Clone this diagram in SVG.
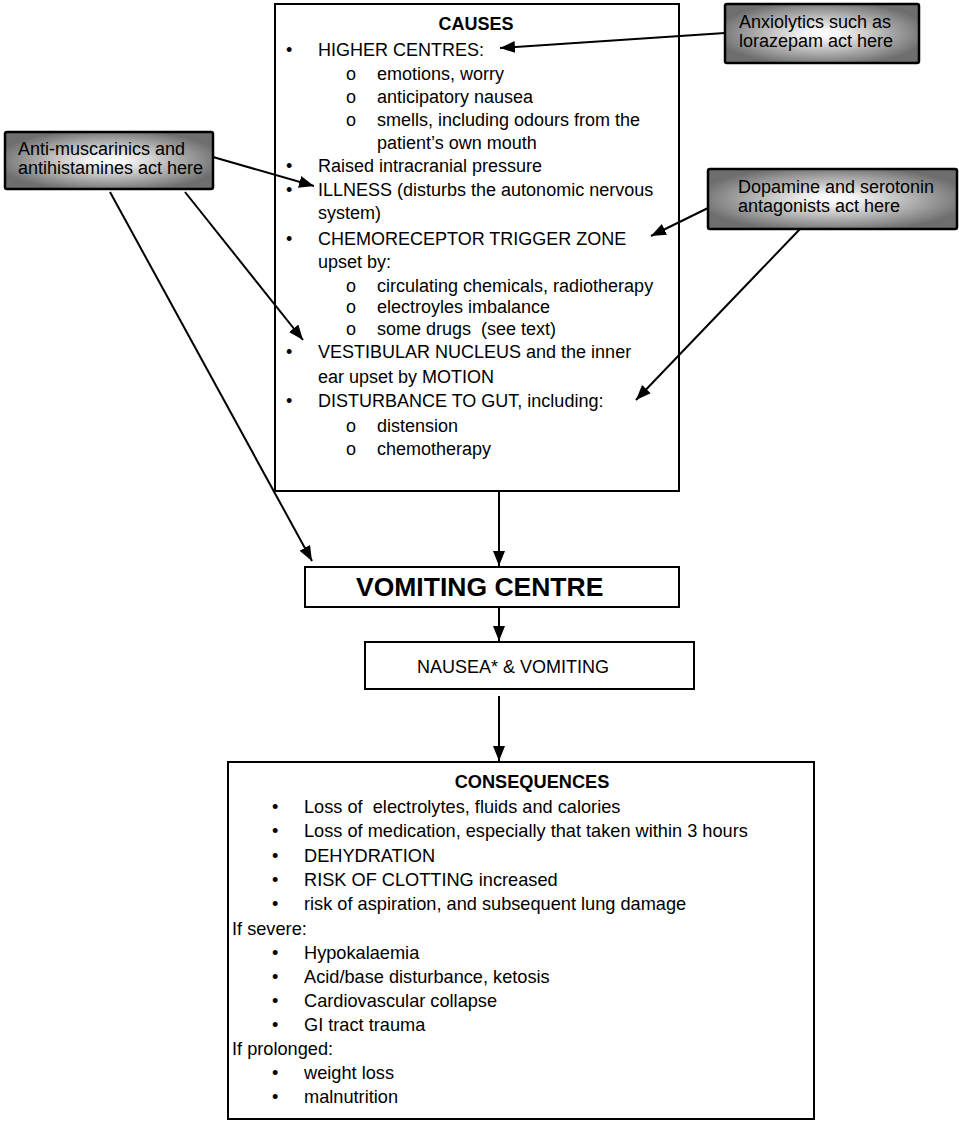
<svg xmlns="http://www.w3.org/2000/svg" width="959" height="1121" viewBox="0 0 959 1121">
<defs>
<radialGradient id="g" cx="0.5" cy="0.5" r="0.55">
<stop offset="0" stop-color="#ffffff"/>
<stop offset="0.15" stop-color="#f6f6f6"/>
<stop offset="1" stop-color="#6e6e6e"/>
</radialGradient>
<marker id="ah" markerUnits="userSpaceOnUse" markerWidth="16" markerHeight="14" refX="15" refY="6" orient="auto">
<path d="M0,0 L15,6 L0,12 Z" fill="#000"/>
</marker>
<style>
.t{font-family:"Liberation Sans",Arial,sans-serif;font-size:18px;fill:#000;white-space:pre}
.c{font-family:"Liberation Sans",Arial,sans-serif;font-size:18.2px;fill:#000;white-space:pre}
.b{font-weight:bold}
.box{fill:#fff;stroke:#000;stroke-width:2}
.gbox{fill:url(#g);stroke:#000;stroke-width:2.5}
.ln{stroke:#000;stroke-width:2;fill:none;marker-end:url(#ah)}
</style>
</defs>
<rect width="959" height="1121" fill="#fff"/>

<g id="causes">
<rect class="box" x="275" y="4" width="404" height="487"/>
<text class="t b" x="476" y="30" text-anchor="middle">CAUSES</text>
<text class="t" x="286" y="56">•</text><text class="t" x="318" y="56">HIGHER CENTRES:</text>
<text class="t" x="346" y="80">o</text><text class="t" x="377" y="80">emotions, worry</text>
<text class="t" x="346" y="103">o</text><text class="t" x="377" y="103">anticipatory nausea</text>
<text class="t" x="346" y="126">o</text><text class="t" x="377" y="126">smells, including odours from the</text>
<text class="t" x="377" y="149">patient’s own mouth</text>
<text class="t" x="286" y="172">•</text><text class="t" x="318" y="172">Raised intracranial pressure</text>
<text class="t" x="286" y="196">•</text><text class="t" x="318" y="196">ILLNESS (disturbs the autonomic nervous</text>
<text class="t" x="318" y="219">system)</text>
<text class="t" x="286" y="245">•</text><text class="t" x="318" y="245">CHEMORECEPTOR TRIGGER ZONE</text>
<text class="t" x="318" y="268">upset by:</text>
<text class="t" x="346" y="292">o</text><text class="t" x="377" y="292">circulating chemicals, radiotherapy</text>
<text class="t" x="346" y="313">o</text><text class="t" x="377" y="313">electroyles imbalance</text>
<text class="t" x="346" y="335">o</text><text class="t" x="377" y="335">some drugs  (see text)</text>
<text class="t" x="286" y="358">•</text><text class="t" x="318" y="358">VESTIBULAR NUCLEUS and the inner</text>
<text class="t" x="318" y="383">ear upset by MOTION</text>
<text class="t" x="286" y="407">•</text><text class="t" x="318" y="407">DISTURBANCE TO GUT, including:</text>
<text class="t" x="346" y="432">o</text><text class="t" x="377" y="432">distension</text>
<text class="t" x="346" y="455">o</text><text class="t" x="377" y="455">chemotherapy</text>
</g>

<g id="anxiolytics">
<rect class="gbox" x="725" y="4" width="194" height="59" rx="2"/>
<text class="t" x="739" y="28">Anxiolytics such as</text>
<text class="t" x="739" y="47">lorazepam act here</text>
</g>

<g id="antimuscarinics">
<rect class="gbox" x="5" y="132" width="208" height="57" rx="2"/>
<text class="t" x="18" y="155">Anti-muscarinics and</text>
<text class="t" x="18" y="174">antihistamines act here</text>
</g>

<g id="dopamine">
<rect class="gbox" x="708" y="169" width="249" height="60" rx="2"/>
<text class="t" x="738" y="193">Dopamine and serotonin</text>
<text class="t" x="738" y="212">antagonists act here</text>
</g>

<g id="vomiting-centre">
<rect class="box" x="305" y="567" width="374" height="40"/>
<text class="t b" x="356" y="596" style="font-size:26.5px">VOMITING CENTRE</text>
</g>

<g id="nausea">
<rect class="box" x="365" y="642" width="329" height="47"/>
<text class="t" x="417" y="673">NAUSEA* &amp; VOMITING</text>
</g>

<g id="consequences">
<rect class="box" x="228" y="762" width="586" height="357"/>
<text class="c b" x="532" y="788" text-anchor="middle">CONSEQUENCES</text>
<text class="c" x="272" y="813">•</text><text class="c" x="304" y="813">Loss of  electrolytes, fluids and calories</text>
<text class="c" x="272" y="837">•</text><text class="c" x="304" y="837">Loss of medication, especially that taken within 3 hours</text>
<text class="c" x="272" y="862">•</text><text class="c" x="304" y="862">DEHYDRATION</text>
<text class="c" x="272" y="886">•</text><text class="c" x="304" y="886">RISK OF CLOTTING increased</text>
<text class="c" x="272" y="910">•</text><text class="c" x="304" y="910">risk of aspiration, and subsequent lung damage</text>
<text class="c" x="232" y="935">If severe:</text>
<text class="c" x="272" y="959">•</text><text class="c" x="304" y="959">Hypokalaemia</text>
<text class="c" x="272" y="983">•</text><text class="c" x="304" y="983">Acid/base disturbance, ketosis</text>
<text class="c" x="272" y="1007">•</text><text class="c" x="304" y="1007">Cardiovascular collapse</text>
<text class="c" x="272" y="1031">•</text><text class="c" x="304" y="1031">GI tract trauma</text>
<text class="c" x="232" y="1055">If prolonged:</text>
<text class="c" x="272" y="1079">•</text><text class="c" x="304" y="1079">weight loss</text>
<text class="c" x="272" y="1103">•</text><text class="c" x="304" y="1103">malnutrition</text>
</g>

<g id="connectors">
<line class="ln" x1="725" y1="33" x2="500" y2="48"/>
<line class="ln" x1="213" y1="157" x2="314" y2="186"/>
<line class="ln" x1="185" y1="192" x2="303" y2="340"/>
<line class="ln" x1="110" y1="192" x2="312" y2="561"/>
<line class="ln" x1="708" y1="208" x2="651" y2="236"/>
<line class="ln" x1="800" y1="229" x2="636" y2="400"/>
<line class="ln" x1="499" y1="491" x2="499" y2="566"/>
<line class="ln" x1="499" y1="607" x2="499" y2="641"/>
<line class="ln" x1="499" y1="696" x2="499" y2="761"/>
</g>
</svg>
